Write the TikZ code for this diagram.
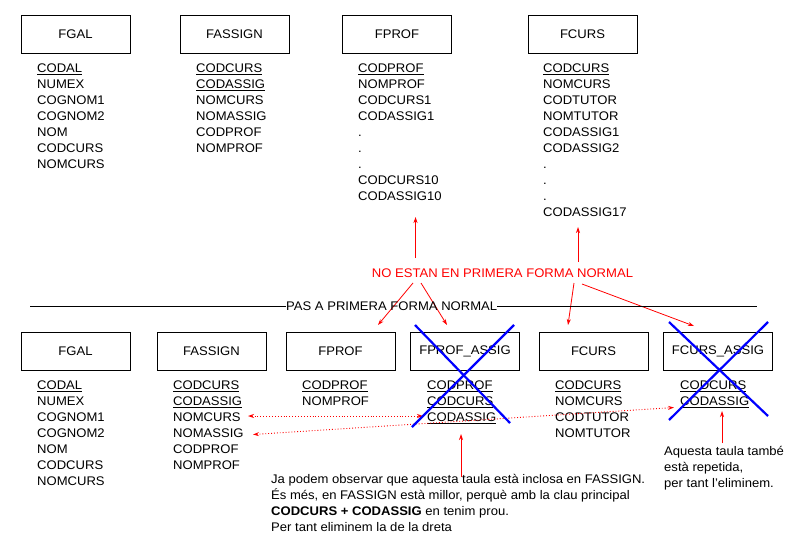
\documentclass[tikz,border=0pt]{standalone}
\usepackage{fontspec}
\setmainfont[FakeStretch=1.045]{Liberation Sans}
\usetikzlibrary{arrows.meta}
\newcommand\fsz{\fontsize{12.5}{16}\selectfont}
\tikzset{
  tbl/.style={draw=black, line width=1pt, minimum width=109pt, minimum height=38pt, inner sep=0pt, font=\fsz},
  flist/.style={anchor=north west, align=left, inner sep=0pt, font=\fsz},
  redarr/.style={draw=red, line width=0.8pt, -{Stealth[length=6pt,width=4pt]}},
  dotarr/.style={draw=red, line width=0.9pt, dotted, {Stealth[length=6pt,width=4pt]}-{Stealth[length=6pt,width=4pt]}},
  cross/.style={draw=blue, line width=2.2pt},
}
\begin{document}
\begin{tikzpicture}[x=1pt,y=-1pt]
\useasboundingbox (0,0) rectangle (794,549);
% top row
\node[tbl] (tgal) at (75.5,34) {FGAL};
\node[tbl] (tass) at (234.5,34) {FASSIGN};
\node[tbl] (tprof) at (397,34) {FPROF};
\node[tbl] (tcurs) at (582.5,34) {FCURS};
\node[flist] (lgal) at (37,63.5) {\underline{CODAL}\\NUMEX\\COGNOM1\\COGNOM2\\NOM\\CODCURS\\NOMCURS};
\node[flist] (lass) at (196,63.5) {\underline{CODCURS}\\\underline{CODASSIG}\\NOMCURS\\NOMASSIG\\CODPROF\\NOMPROF};
\node[flist] (lprof) at (358,63.5) {\underline{CODPROF}\\NOMPROF\\CODCURS1\\CODASSIG1\\.\\.\\.\\CODCURS10\\CODASSIG10};
\node[flist] (lcurs) at (543,63.5) {\underline{CODCURS}\\NOMCURS\\CODTUTOR\\NOMTUTOR\\CODASSIG1\\CODASSIG2\\.\\.\\.\\CODASSIG17};
% red label
\node[text=red, font=\fsz, inner sep=0pt] (noest) at (502.5,273) {NO ESTAN EN PRIMERA FORMA NORMAL};
\coordinate (a1s) at (415.5,258); \coordinate (a1e) at (415.5,217);
\coordinate (a2s) at (578,262); \coordinate (a2e) at (578,227);
\coordinate (a3s) at (413,283); \coordinate (a3e) at (378,325);
\coordinate (a4s) at (421,283); \coordinate (a4e) at (447,325);
\coordinate (a5s) at (574,283); \coordinate (a5e) at (568,325);
\coordinate (a6s) at (582,284); \coordinate (a6e) at (694,326);
\draw[redarr] (a1s) -- (a1e);
\draw[redarr] (a2s) -- (a2e);
\draw[redarr] (a3s) -- (a3e);
\draw[redarr] (a4s) -- (a4e);
\draw[redarr] (a5s) -- (a5e);
\draw[redarr] (a6s) -- (a6e);
% separator
\node[font=\fsz, inner sep=0pt, anchor=west] (pas) at (286,306.5) {PAS A PRIMERA FORMA NORMAL};
\coordinate (sepl) at (30,306); \coordinate (sepr) at (757,306);
\draw[line width=1pt] (sepl) -- (pas.west |- sepl);
\draw[line width=1pt] (pas.east |- sepr) -- (sepr);
% bottom row
\node[tbl] (bgal) at (75.5,351.5) {FGAL};
\node[tbl] (bass) at (211.5,351.5) {FASSIGN};
\node[tbl] (bprof) at (340.5,351.5) {FPROF};
\node[tbl] (bpa) at (465,351.5) {FPROF\_ASSIG};
\node[tbl] (bcurs) at (593.5,351.5) {FCURS};
\node[tbl] (bca) at (718,351.5) {FCURS\_ASSIG};
\node[flist] (mgal) at (37,380.5) {\underline{CODAL}\\NUMEX\\COGNOM1\\COGNOM2\\NOM\\CODCURS\\NOMCURS};
\node[flist] (mass) at (173,380.5) {\underline{CODCURS}\\\underline{CODASSIG}\\NOMCURS\\NOMASSIG\\CODPROF\\NOMPROF};
\node[flist] (mprof) at (302,380.5) {\underline{CODPROF}\\NOMPROF};
\node[flist] (mpa) at (427,380.5) {\underline{CODPROF}\\\underline{CODCURS}\\\underline{CODASSIG}};
\node[flist] (mcurs) at (555,380.5) {\underline{CODCURS}\\NOMCURS\\CODTUTOR\\NOMTUTOR};
\node[flist] (mca) at (680,380.5) {\underline{CODCURS}\\\underline{CODASSIG}};
% dotted arrows
\coordinate (d1l) at (248,416); \coordinate (d1r) at (423,416);
\coordinate (d2l) at (253,434.5); \coordinate (d2r) at (674,407.5);
\draw[dotarr] (d1l) -- (d1r);
\draw[dotarr] (d2l) -- (d2r);
% crosses
\coordinate (x1a) at (412,427); \coordinate (x1b) at (514,325);
\coordinate (x1c) at (415,325); \coordinate (x1d) at (510,423);
\coordinate (x2a) at (669,420); \coordinate (x2b) at (768,322);
\coordinate (x2c) at (669,322); \coordinate (x2d) at (768,416);
\draw[cross] (x1a) -- (x1b);
\draw[cross] (x1c) -- (x1d);
\draw[cross] (x2a) -- (x2b);
\draw[cross] (x2c) -- (x2d);
% notes
\node[flist] (note1) at (271,474.5) {Ja podem observar que aquesta taula està inclosa en FASSIGN.\\És més, en FASSIGN està millor, perquè amb la clau principal\\\textbf{CODCURS + CODASSIG} en tenim prou.\\Per tant eliminem la de la dreta};
\node[flist] (note2) at (664,446.5) {Aquesta taula també\\està repetida,\\per tant l'eliminem.};
\coordinate (a7s) at (461,477); \coordinate (a7e) at (461,434);
\coordinate (a8s) at (722,443); \coordinate (a8e) at (722,411);
\draw[redarr] (a7s) -- (a7e);
\draw[redarr] (a8s) -- (a8e);
\end{tikzpicture}
\end{document}
